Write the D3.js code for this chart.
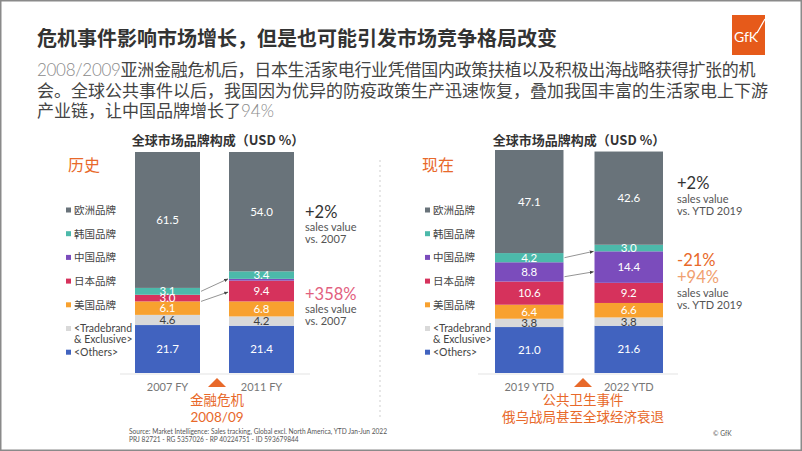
<!DOCTYPE html>
<html>
<head>
<meta charset="utf-8">
<script src="https://cdn.jsdelivr.net/npm/d3@7"></script>
<style>
  html, body { margin: 0; padding: 0; background: #fff; }
  svg { display: block; font-family: Lato, "Noto Sans CJK SC", sans-serif; }
</style>
</head>
<body>
<svg id="chart" width="802" height="451"></svg>
<script>
// ---------------- DATA ----------------
const periods = ["2007 FY", "2011 FY", "2019 YTD", "2022 YTD"];
const europeBrands = [61.5, 54.0, 47.1, 42.6];
const koreaBrands  = [3.1, 3.4, 4.2, 3.0];
const chinaBrands  = [0.0, 0.8, 8.8, 14.4];
const japanBrands  = [3.0, 9.4, 10.6, 9.2];
const usBrands     = [6.1, 6.8, 6.4, 6.6];
const tradeBrands  = [4.6, 4.2, 3.8, 3.8];
const otherBrands  = [21.7, 21.4, 21.0, 21.6];
const seriesKeys   = ["others", "trade", "us", "japan", "china", "korea", "europe"]; // bottom → top
const legendLabels = ["欧洲品牌", "韩国品牌", "中国品牌", "日本品牌", "美国品牌", "<Tradebrand|& Exclusive>", "<Others>"];
const title = "危机事件影响市场增长，但是也可能引发市场竞争格局改变";
const chartTitle = "全球市场品牌构成（USD %）";

// ---------------- STYLE ----------------
const colors = {
  europe: "#69737a", korea: "#4cb9aa", china: "#7b4cbc", japan: "#d6325c",
  us: "#f8a12f", trade: "#d9d9d9", others: "#4163bf"
};
const legendKeys = ["europe", "korea", "china", "japan", "us", "trade", "others"];
const seriesData = { europe: europeBrands, korea: koreaBrands, china: chinaBrands, japan: japanBrands,
                     us: usBrands, trade: tradeBrands, others: otherBrands };
const ORANGE = "#e8692a";

const svg = d3.select("#chart");

// frame
svg.append("rect").attr("x", 0.75).attr("y", 0.75).attr("width", 800.5).attr("height", 449.5)
  .attr("fill", "none").attr("stroke", "#8a8a8a").attr("stroke-width", 1.5);

// defs: arrowhead
svg.append("defs").append("marker")
  .attr("id", "arr").attr("viewBox", "0 0 10 10").attr("refX", 9).attr("refY", 5)
  .attr("markerWidth", 6).attr("markerHeight", 6).attr("orient", "auto")
  .append("path").attr("d", "M0,1 L10,5 L0,9 Z").attr("fill", "#444");

// title
svg.append("text").attr("x", 37).attr("y", 46)
  .attr("font-family", "'Noto Sans CJK SC', sans-serif").attr("font-weight", 700)
  .attr("font-size", 20).attr("fill", "#333").text(title);

// subtitle
const subLines = [
  [["2008/2009", true], ["亚洲金融危机后，日本生活家电行业凭借国内政策扶植以及积极出海战略获得扩张的机", false]],
  [["会。全球公共事件以后，我国因为优异的防疫政策生产迅速恢复，叠加我国丰富的生活家电上下游", false]],
  [["产业链，让中国品牌增长了", false], ["94%", true]]
];
subLines.forEach((line, i) => {
  const t = svg.append("text").attr("x", 37).attr("y", 76 + i * 20.5).attr("font-size", 17);
  if (i === 0) t.attr("letter-spacing", -0.3);
  line.forEach(([s, light]) => {
    t.append("tspan").text(s)
      .attr("font-family", light ? "Lato" : "'Noto Sans CJK SC'")
      .attr("font-weight", light ? 300 : 400)
      .attr("fill", light ? "#8a8a8a" : "#444");
  });
});

// GfK logo
const logo = svg.append("g");
logo.append("rect").attr("x", 732).attr("y", 15).attr("width", 33).attr("height", 40).attr("fill", "#e65a1a");
logo.append("text").attr("x", 746).attr("y", 42).attr("text-anchor", "middle")
  .attr("font-family", "Lato").attr("font-size", 14).attr("fill", "#fff").text("GfK");
logo.append("line").attr("x1", 757).attr("y1", 33).attr("x2", 765).attr("y2", 19)
  .attr("stroke", "#fff").attr("stroke-width", 1.2);

// ---------------- PANELS ----------------
function drawPanel(p) {
  const g = svg.append("g");
  const idx = p.indices;
  const cats = idx.map(i => periods[i]);
  const rows = idx.map(i => {
    const r = { period: periods[i] };
    seriesKeys.forEach(k => r[k] = seriesData[k][i]);
    return r;
  });
  const stacked = d3.stack().keys(seriesKeys)(rows);
  const totals = rows.map(r => d3.sum(seriesKeys, k => r[k]));

  const x = d3.scaleBand().domain(cats).range(p.xRange).paddingInner(p.padInner).paddingOuter(0);
  const y = d3.scaleLinear().domain([0, d3.max(totals)]).range([373, p.yTop]);

  // chart title
  g.append("text").attr("x", p.titleX).attr("y", 145).attr("text-anchor", "middle")
    .attr("font-family", "'Noto Sans CJK SC'").attr("font-weight", 700).attr("font-size", 13)
    .attr("fill", "#333").text(chartTitle);

  // section label
  g.append("text").attr("x", p.sectionX).attr("y", 171).attr("font-family", "'Noto Sans CJK SC'")
    .attr("font-size", 16).attr("fill", ORANGE).text(p.section);

  // legend
  legendKeys.forEach((k, i) => {
    const ly = 210 + i * 23.7;
    g.append("rect").attr("x", p.legendX).attr("y", ly - 2.5).attr("width", 5).attr("height", 5).attr("fill", colors[k]);
    const parts = legendLabels[i].split("|");
    parts.forEach((s, j) => {
      g.append("text").attr("x", p.legendX + 8).attr("y", ly + 3.8 + j * 11)
        .attr("font-size", 10.5).attr("fill", "#444").text(s);
    });
  });

  // bars
  stacked.forEach(layer => {
    const key = layer.key;
    layer.forEach((d, j) => {
      const h = y(d[0]) - y(d[1]);
      if (h <= 0) return;
      g.append("rect").attr("x", x(cats[j])).attr("y", y(d[1]))
        .attr("width", x.bandwidth()).attr("height", h).attr("fill", colors[key]);
    });
  });
  // labels
  stacked.forEach(layer => {
    const key = layer.key;
    layer.forEach((d, j) => {
      const v = d[1] - d[0];
      if (v < 1.5) return;
      g.append("text").attr("x", x(cats[j]) + x.bandwidth() / 2).attr("y", (y(d[0]) + y(d[1])) / 2 + 4)
        .attr("text-anchor", "middle").attr("font-size", 11.5)
        .attr("fill", key === "trade" ? "#404040" : "#fff").text(d3.format(".1f")(v));
    });
  });

  // baseline
  g.append("line").attr("x1", p.baseX[0]).attr("x2", p.baseX[1]).attr("y1", 374).attr("y2", 374)
    .attr("stroke", "#e3e3e3").attr("stroke-width", 1);

  // x axis labels
  const ax = g.append("g").attr("transform", "translate(0,374)")
    .call(d3.axisBottom(x).tickSize(0).tickPadding(9));
  ax.select(".domain").remove();
  ax.selectAll("text").attr("font-family", "Lato").attr("font-size", 11).attr("fill", "#777");

  // connector arrows
  const layerOf = k => stacked.find(l => l.key === k);
  p.arrows.forEach(a => {
    const l = layerOf(a.key);
    const segY = (d, f) => y(d[1]) + (y(d[0]) - y(d[1])) * f;
    g.append("line")
      .attr("x1", x(cats[0]) + x.bandwidth() + 1).attr("y1", segY(l[0], a.from))
      .attr("x2", x(cats[1]) - 1).attr("y2", segY(l[1], a.to))
      .attr("stroke", "#666").attr("stroke-width", 0.7).attr("marker-end", "url(#arr)");
  });

  // event triangle + text
  const tx = p.triX;
  g.append("path").attr("d", `M${tx - 9},387 L${tx + 9},387 L${tx},378 Z`).attr("fill", ORANGE);
  p.event.forEach((s, i) => {
    g.append("text").attr("x", tx).attr("y", 405 + i * 17).attr("text-anchor", "middle")
      .attr("font-size", 13.5).attr("fill", ORANGE).text(s);
  });

  // annotations
  p.notes.forEach(n => {
    g.append("text").attr("x", p.noteX).attr("y", n.y).attr("font-size", n.size)
      .attr("fill", n.color).text(n.text);
  });
}

drawPanel({
  indices: [0, 1], xRange: [135, 294], padInner: 0.3085, yTop: 152,
  titleX: 218, section: "历史", sectionX: 68, legendX: 66, baseX: [120, 310],
  triX: 217, event: ["金融危机", "2008/09"],
  arrows: [{ key: "korea", from: 0.5, to: 1.0 }, { key: "japan", from: 1.0, to: 0.55 }],
  noteX: 305,
  notes: [
    { y: 218, size: 16.5, color: "#333", text: "+2%" },
    { y: 231, size: 11, color: "#555", text: "sales value" },
    { y: 243, size: 11, color: "#555", text: "vs. 2007" },
    { y: 300, size: 16.5, color: "#e2607e", text: "+358%" },
    { y: 313, size: 11, color: "#555", text: "sales value" },
    { y: 325, size: 11, color: "#555", text: "vs. 2007" }
  ]
});

drawPanel({
  indices: [2, 3], xRange: [495, 663], padInner: 0.3116, yTop: 150,
  titleX: 579, section: "现在", sectionX: 422, legendX: 425, baseX: [478, 678],
  triX: 583, event: ["公共卫生事件", "俄乌战局甚至全球经济衰退"],
  arrows: [{ key: "korea", from: 0.5, to: 1.0 }, { key: "china", from: 0.75, to: 0.65 }],
  noteX: 677,
  notes: [
    { y: 189, size: 16.5, color: "#333", text: "+2%" },
    { y: 203, size: 11, color: "#555", text: "sales value" },
    { y: 215, size: 11, color: "#555", text: "vs. YTD 2019" },
    { y: 266, size: 16.5, color: ORANGE, text: "-21%" },
    { y: 283, size: 16.5, color: "#f0a070", text: "+94%" },
    { y: 297, size: 11, color: "#555", text: "sales value" },
    { y: 309, size: 11, color: "#555", text: "vs. YTD 2019" }
  ]
});

// divider
svg.append("line").attr("x1", 380).attr("x2", 380).attr("y1", 160).attr("y2", 418)
  .attr("stroke", "#cfcfcf").attr("stroke-width", 1).attr("stroke-dasharray", "2,3");

// footer
svg.append("text").attr("x", 129).attr("y", 434).attr("font-size", 6.6).attr("fill", "#555")
  .text("Source: Market Intelligence: Sales tracking, Global excl. North America, YTD Jan-Jun 2022");
svg.append("text").attr("x", 129).attr("y", 442).attr("font-size", 6.6).attr("fill", "#555")
  .text("PRJ 82721 - RG 5357026 - RP 40224751 - ID 593679844");
svg.append("text").attr("x", 713).attr("y", 436).attr("font-size", 6.6).attr("fill", "#555").text("© GfK");
</script>
</body>
</html>
